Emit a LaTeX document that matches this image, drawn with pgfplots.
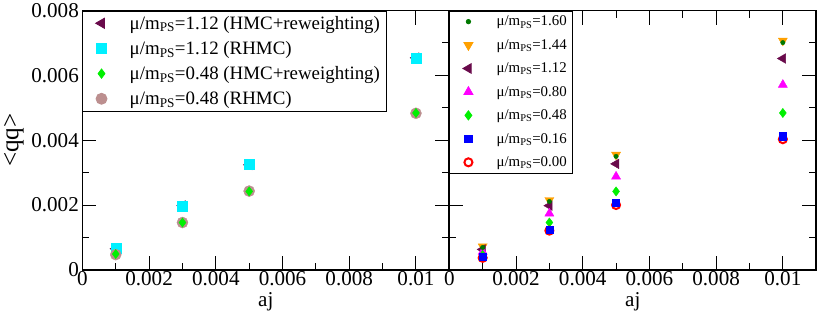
\documentclass[border=0pt]{standalone}
\usepackage{fontspec}
\setmainfont{Liberation Serif}
\usepackage{pgfplots}
\pgfplotsset{compat=1.18}
\definecolor{cMar}{RGB}{105,10,75}
\definecolor{cCyan}{RGB}{0,240,255}
\definecolor{cGreen}{RGB}{0,240,0}
\definecolor{cRosy}{RGB}{188,143,143}
\definecolor{cOrange}{RGB}{255,160,0}
\definecolor{cDGreen}{RGB}{0,120,0}
\definecolor{cMag}{RGB}{255,0,255}
\definecolor{cBlue}{RGB}{0,0,255}
\definecolor{cRed}{RGB}{255,0,0}
\pgfplotsset{common/.style={
  width=365pt,height=258pt,scale only axis,
  xmin=0,xmax=0.011,ymin=0,ymax=0.008,
  xtick={0,0.002,0.004,0.006,0.008,0.01},
  xticklabels={0,0.002,0.004,0.006,0.008,0.01},
  ytick={0,0.002,0.004,0.006,0.008},
  minor x tick num=1, minor y tick num=1,
  tick align=inside, major tick length=14pt, minor tick length=7pt,
  axis line style={line width=1.6pt},
  every tick/.style={black,line width=0.9pt},
  scaled ticks=false,
  tick label style={font=\rmfamily\fontsize{21}{21}\selectfont},
  xticklabel style={yshift=2pt},
  xlabel={aj},
  xlabel style={font=\rmfamily\fontsize{21}{21}\selectfont},
  only marks,
  legend image code/.code={\draw[##1] plot coordinates {(0.5cm,0cm)}; \path (0cm,0cm) (1.4cm,0cm);},
  legend cell align=left,
  legend style={draw=black,line width=0.8pt,
     at={(0,1)},anchor=north west,inner xsep=4pt,inner ysep=3pt},
}}
\begin{document}
\begin{tikzpicture}
\begin{axis}[common,name=L,
  yticklabels={0,0.002,0.004,0.006,0.008},
  ylabel={<qq>},
  ylabel style={font=\rmfamily\fontsize{25}{25}\selectfont,inner sep=4pt},
  legend style={row sep=6.5pt,font=\rmfamily\fontsize{18.8}{18.8}\selectfont},
]
\addplot[mark=triangle*,mark size=5.8pt,mark options={rotate=90,fill=cMar,draw=cMar},cMar]
  coordinates {(0.001,0.00065) (0.003,0.00198) (0.005,0.00324) (0.01,0.00654)};
\addlegendentry{μ/m\textsubscript{PS}=1.12 (HMC+reweighting)}
\addplot[mark=square*,mark size=5pt,mark options={fill=cCyan,draw=cCyan},cCyan]
  coordinates {(0.001,0.00066) (0.003,0.00197) (0.005,0.00327) (0.01,0.00652)};
\addlegendentry{μ/m\textsubscript{PS}=1.12 (RHMC)}
\addplot[mark=*,mark size=5.5pt,mark options={fill=cRosy,draw=cRosy},cRosy,forget plot]
  coordinates {(0.001,0.00047) (0.003,0.00146) (0.005,0.00243) (0.01,0.00483)};
\addplot[mark=diamond*,mark size=4.6pt,mark options={fill=cGreen,draw=cGreen},cGreen]
  coordinates {(0.001,0.00049) (0.003,0.00146) (0.005,0.00242) (0.01,0.00484)};
\addlegendentry{μ/m\textsubscript{PS}=0.48 (HMC+reweighting)}
\addlegendimage{mark=*,mark size=5.5pt,mark options={fill=cRosy,draw=cRosy},cRosy}
\addlegendentry{μ/m\textsubscript{PS}=0.48 (RHMC)}
\end{axis}
\begin{axis}[common,at={(L.south east)},anchor=south west,
  yticklabels={},
  legend style={row sep=8pt,font=\rmfamily\fontsize{14.8}{14.8}\selectfont},
]
\addlegendimage{mark=*,mark size=2.2pt,mark options={fill=cDGreen,draw=cDGreen},cDGreen}
\addlegendentry{μ/m\textsubscript{PS}=1.60}
\addplot[mark=triangle*,mark size=5.2pt,mark options={rotate=180,fill=cOrange,draw=cOrange},cOrange]
  coordinates {(0.001,0.00072) (0.003,0.00215) (0.005,0.00355) (0.01,0.00707)};
\addlegendentry{μ/m\textsubscript{PS}=1.44}
\addplot[mark=triangle*,mark size=5.5pt,mark options={rotate=90,fill=cMar,draw=cMar},cMar]
  coordinates {(0.001,0.00063) (0.003,0.00198) (0.005,0.00327) (0.01,0.00652)};
\addlegendentry{μ/m\textsubscript{PS}=1.12}
\addplot[mark=triangle*,mark size=5.2pt,mark options={fill=cMag,draw=cMag},cMag]
  coordinates {(0.001,0.00056) (0.003,0.00174) (0.005,0.00288) (0.01,0.00571)};
\addlegendentry{μ/m\textsubscript{PS}=0.80}
\addplot[mark=diamond*,mark size=4.6pt,mark options={fill=cGreen,draw=cGreen},cGreen]
  coordinates {(0.001,0.00046) (0.003,0.00146) (0.005,0.00242) (0.01,0.00484)};
\addlegendentry{μ/m\textsubscript{PS}=0.48}
\addplot[mark=o,mark size=4pt,mark options={line width=2pt,draw=cRed},cRed,forget plot]
  coordinates {(0.001,0.00037) (0.003,0.00121) (0.005,0.00200) (0.01,0.00403)};
\addplot[mark=square*,mark size=3.6pt,mark options={fill=cBlue,draw=cBlue},cBlue]
  coordinates {(0.001,0.00040) (0.003,0.00125) (0.005,0.00208) (0.01,0.00412)};
\addlegendentry{μ/m\textsubscript{PS}=0.16}
\addlegendimage{mark=o,mark size=4pt,mark options={line width=2pt,draw=cRed},cRed}
\addlegendentry{μ/m\textsubscript{PS}=0.00}
\addplot[mark=*,mark size=2.2pt,mark options={fill=cDGreen,draw=cDGreen},cDGreen,forget plot]
  coordinates {(0.001,0.00069) (0.003,0.00211) (0.005,0.00350) (0.01,0.00701)};
\end{axis}
\end{tikzpicture}
\end{document}
